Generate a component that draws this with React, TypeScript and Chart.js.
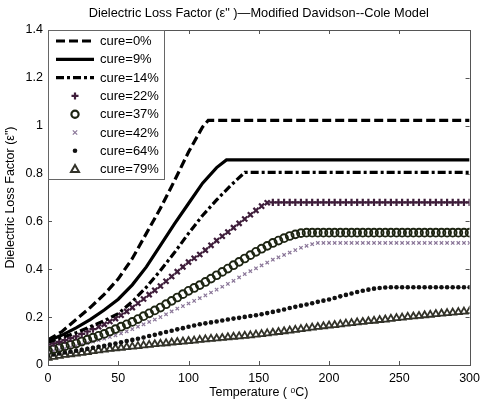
import React, { useEffect, useRef } from "react";
import { Chart, registerables } from "chart.js";

Chart.register(...registerables);

const WIDTH = 486;
const HEIGHT = 401;
const FONT = "'Liberation Sans', Arial, Helvetica, sans-serif";

const chartTitle = 'Dielectric Loss Factor (\u03b5" )\u2014Modified Davidson--Cole Model';
const xTitle = "Temperature ( \u1d52C)";
const yTitle = 'Dielectric Loss Factor (\u03b5")';

const seriesLabels = [
  "cure=0%",
  "cure=9%",
  "cure=14%",
  "cure=22%",
  "cure=37%",
  "cure=42%",
  "cure=64%",
  "cure=79%",
];

// Line-only curves (each with its own temperature samples, ending on the plateau)
const cure0Temps = [0, 10, 20, 30, 40, 50, 60, 70, 80, 90, 100, 110, 114, 300];
const cure0Values = [0.105, 0.14, 0.19, 0.24, 0.295, 0.36, 0.445, 0.55, 0.655, 0.77, 0.89, 0.995, 1.022, 1.022];

const cure9Temps = [0, 10, 20, 30, 40, 50, 60, 70, 80, 90, 100, 110, 120, 127, 300];
const cure9Values = [0.1, 0.125, 0.155, 0.19, 0.23, 0.275, 0.335, 0.41, 0.5, 0.59, 0.675, 0.76, 0.825, 0.857, 0.857];

const cure14Temps = [0, 10, 20, 30, 40, 50, 60, 70, 80, 90, 100, 110, 120, 130, 140, 300];
const cure14Values = [0.095, 0.115, 0.135, 0.16, 0.185, 0.215, 0.265, 0.325, 0.395, 0.47, 0.55, 0.625, 0.69, 0.75, 0.805, 0.805];

// Marker curves share one temperature grid (°C)
const markerTemps = [
  0, 4, 8, 12, 16, 20, 24, 28, 32, 36,
  40, 44, 48, 52, 56, 60, 64, 68, 72, 76,
  80, 84, 88, 92, 96, 100, 104, 108, 112, 116,
  120, 124, 128, 132, 136, 140, 144, 148, 152, 156,
  160, 164, 168, 172, 176, 180, 184, 188, 192, 196,
  200, 204, 208, 212, 216, 220, 224, 228, 232, 236,
  240, 244, 248, 252, 256, 260, 264, 268, 272, 276,
  280, 284, 288, 292, 296, 300,
];

const cure22Values = [
  0.085, 0.091, 0.097, 0.104, 0.112, 0.12, 0.13, 0.14, 0.15, 0.16,
  0.17, 0.182, 0.194, 0.208, 0.224, 0.24, 0.258, 0.276, 0.294, 0.312,
  0.33, 0.35, 0.37, 0.39, 0.41, 0.43, 0.446, 0.462, 0.48, 0.5,
  0.52, 0.538, 0.556, 0.574, 0.592, 0.61, 0.628, 0.646, 0.664, 0.678,
  0.68, 0.68, 0.68, 0.68, 0.68, 0.68, 0.68, 0.68, 0.68, 0.68,
  0.68, 0.68, 0.68, 0.68, 0.68, 0.68, 0.68, 0.68, 0.68, 0.68,
  0.68, 0.68, 0.68, 0.68, 0.68, 0.68, 0.68, 0.68, 0.68, 0.68,
  0.68, 0.68, 0.68, 0.68, 0.68, 0.68,
];

const cure37Values = [
  0.06, 0.066, 0.072, 0.078, 0.084, 0.09, 0.098, 0.106, 0.114, 0.122,
  0.13, 0.14, 0.15, 0.16, 0.17, 0.18, 0.192, 0.204, 0.216, 0.228,
  0.24, 0.254, 0.268, 0.282, 0.296, 0.31, 0.322, 0.334, 0.347, 0.361,
  0.375, 0.389, 0.403, 0.417, 0.431, 0.445, 0.459, 0.473, 0.486, 0.498,
  0.51, 0.52, 0.53, 0.539, 0.546, 0.551, 0.553, 0.553, 0.553, 0.553,
  0.553, 0.553, 0.553, 0.553, 0.553, 0.553, 0.553, 0.553, 0.553, 0.553,
  0.553, 0.553, 0.553, 0.553, 0.553, 0.553, 0.553, 0.553, 0.553, 0.553,
  0.553, 0.553, 0.553, 0.553, 0.553, 0.553,
];

const cure42Values = [
  0.055, 0.059, 0.063, 0.068, 0.074, 0.08, 0.086, 0.092, 0.098, 0.104,
  0.11, 0.117, 0.124, 0.132, 0.141, 0.15, 0.16, 0.17, 0.18, 0.19,
  0.2, 0.212, 0.224, 0.236, 0.246, 0.257, 0.268, 0.279, 0.291, 0.303,
  0.315, 0.327, 0.339, 0.352, 0.366, 0.38, 0.392, 0.404, 0.416, 0.428,
  0.44, 0.45, 0.46, 0.47, 0.48, 0.49, 0.498, 0.505, 0.51, 0.51,
  0.51, 0.51, 0.51, 0.51, 0.51, 0.51, 0.51, 0.51, 0.51, 0.51,
  0.51, 0.51, 0.51, 0.51, 0.51, 0.51, 0.51, 0.51, 0.51, 0.51,
  0.51, 0.51, 0.51, 0.51, 0.51, 0.51,
];

const cure64Values = [
  0.04, 0.044, 0.048, 0.052, 0.056, 0.06, 0.064, 0.068, 0.072, 0.076,
  0.08, 0.085, 0.09, 0.095, 0.1, 0.105, 0.11, 0.115, 0.121, 0.126,
  0.132, 0.138, 0.143, 0.149, 0.154, 0.16, 0.165, 0.17, 0.174, 0.178,
  0.182, 0.186, 0.19, 0.194, 0.197, 0.201, 0.205, 0.208, 0.212, 0.217,
  0.222, 0.227, 0.232, 0.238, 0.243, 0.248, 0.253, 0.258, 0.264, 0.269,
  0.274, 0.28, 0.287, 0.293, 0.299, 0.305, 0.31, 0.315, 0.319, 0.322,
  0.324, 0.325, 0.325, 0.325, 0.325, 0.325, 0.325, 0.325, 0.325, 0.325,
  0.325, 0.325, 0.325, 0.325, 0.325, 0.325,
];

const cure79Values = [
  0.03, 0.034, 0.038, 0.042, 0.045, 0.048, 0.051, 0.054, 0.058, 0.061,
  0.064, 0.067, 0.07, 0.072, 0.075, 0.077, 0.079, 0.082, 0.084, 0.087,
  0.089, 0.091, 0.094, 0.096, 0.098, 0.1, 0.102, 0.105, 0.107, 0.109,
  0.111, 0.113, 0.116, 0.118, 0.12, 0.122, 0.124, 0.127, 0.129, 0.132,
  0.135, 0.138, 0.141, 0.144, 0.147, 0.15, 0.153, 0.156, 0.159, 0.162,
  0.165, 0.167, 0.17, 0.173, 0.175, 0.178, 0.18, 0.183, 0.185, 0.188,
  0.19, 0.193, 0.196, 0.198, 0.201, 0.203, 0.205, 0.208, 0.21, 0.213,
  0.215, 0.217, 0.219, 0.221, 0.223, 0.225,
];

const xTicks = [0, 50, 100, 150, 200, 250, 300];
const yTicks = [0, 0.2, 0.4, 0.6, 0.8, 1, 1.2, 1.4];

const toPoints = (temps: number[], values: number[]) =>
  temps.map((t, i) => ({ x: t, y: values[i] }));

type LegendKind = "line" | "cross" | "circle" | "crossRot" | "dot" | "triangle";

const DASHED = [9, 4];
const DASH_DOT = [8, 3, 3, 3];
const LINE_W = 3.2;

const legendStyles: { kind: LegendKind; color: string; dash?: number[]; width?: number }[] = [
  { kind: "line", color: "#000", dash: DASHED, width: LINE_W },
  { kind: "line", color: "#000", width: LINE_W },
  { kind: "line", color: "#000", dash: DASH_DOT, width: LINE_W },
  { kind: "cross", color: "#3e1d3a" },
  { kind: "circle", color: "#1d2412" },
  { kind: "crossRot", color: "#8a7698" },
  { kind: "dot", color: "#111" },
  { kind: "triangle", color: "#33332a" },
];

function drawMarker(ctx: CanvasRenderingContext2D, kind: LegendKind, x: number, y: number, color: string) {
  ctx.save();
  ctx.strokeStyle = color;
  ctx.fillStyle = color;
  ctx.lineWidth = 2.2;
  ctx.setLineDash([]);
  ctx.beginPath();
  if (kind === "cross") {
    ctx.moveTo(x - 3.5, y);
    ctx.lineTo(x + 3.5, y);
    ctx.moveTo(x, y - 3.5);
    ctx.lineTo(x, y + 3.5);
    ctx.stroke();
  } else if (kind === "crossRot") {
    ctx.lineWidth = 1.2;
    ctx.moveTo(x - 2.2, y - 2.2);
    ctx.lineTo(x + 2.2, y + 2.2);
    ctx.moveTo(x + 2.2, y - 2.2);
    ctx.lineTo(x - 2.2, y + 2.2);
    ctx.stroke();
  } else if (kind === "circle") {
    ctx.arc(x, y, 3.6, 0, Math.PI * 2);
    ctx.stroke();
  } else if (kind === "dot") {
    ctx.arc(x, y, 2.3, 0, Math.PI * 2);
    ctx.fill();
  } else if (kind === "triangle") {
    ctx.lineWidth = 2;
    ctx.moveTo(x, y - 4);
    ctx.lineTo(x + 4, y + 3);
    ctx.lineTo(x - 4, y + 3);
    ctx.closePath();
    ctx.stroke();
  }
  ctx.restore();
}

// Frame with inward ticks, boxed legend in the upper-left corner and the title
const decorPlugin = {
  id: "decor",
  afterDraw(chart: any) {
    const { ctx, chartArea: a, scales } = chart;
    ctx.save();

    // plot frame
    ctx.strokeStyle = "#555";
    ctx.lineWidth = 1;
    ctx.setLineDash([]);
    ctx.strokeRect(Math.round(a.left) + 0.5, Math.round(a.top) + 0.5, Math.round(a.right - a.left), Math.round(a.bottom - a.top));

    // inward tick marks on all four sides
    ctx.beginPath();
    xTicks.forEach((v) => {
      const px = Math.round(scales.x.getPixelForValue(v)) + 0.5;
      ctx.moveTo(px, a.bottom);
      ctx.lineTo(px, a.bottom - 4);
      ctx.moveTo(px, a.top);
      ctx.lineTo(px, a.top + 4);
    });
    yTicks.forEach((v) => {
      const py = Math.round(scales.y.getPixelForValue(v)) + 0.5;
      ctx.moveTo(a.left, py);
      ctx.lineTo(a.left + 4, py);
      ctx.moveTo(a.right, py);
      ctx.lineTo(a.right - 4, py);
    });
    ctx.stroke();

    // legend
    const boxL = Math.round(a.left) + 0.5;
    const boxT = Math.round(a.top) + 0.5;
    const boxW = 116;
    const boxH = 149;
    ctx.fillStyle = "#fff";
    ctx.fillRect(boxL, boxT, boxW, boxH);
    ctx.strokeStyle = "#666";
    ctx.strokeRect(boxL, boxT, boxW, boxH);
    const rowTop = a.top + 11;
    const rowStep = 18.3;
    ctx.font = `13px ${FONT}`;
    ctx.textBaseline = "middle";
    ctx.textAlign = "left";
    seriesLabels.forEach((label, i) => {
      const y = rowTop + i * rowStep;
      const st = legendStyles[i];
      const x0 = a.left + 8;
      const x1 = a.left + 46;
      if (st.kind === "line") {
        ctx.save();
        ctx.strokeStyle = st.color;
        ctx.lineWidth = st.width || 2.5;
        ctx.setLineDash(st.dash || []);
        ctx.beginPath();
        ctx.moveTo(x0, y);
        ctx.lineTo(x1, y);
        ctx.stroke();
        ctx.restore();
      } else {
        drawMarker(ctx, st.kind, (x0 + x1) / 2, y, st.color);
      }
      ctx.fillStyle = "#000";
      ctx.fillText(label, a.left + 52, y + 0.5);
    });

    // title
    ctx.font = `12.8px ${FONT}`;
    ctx.textAlign = "center";
    ctx.textBaseline = "middle";
    ctx.fillStyle = "#000";
    ctx.fillText(chartTitle, (a.left + a.right) / 2, 13.5);

    ctx.restore();
  },
};

export default function App() {
  const canvasRef = useRef<HTMLCanvasElement | null>(null);

  useEffect(() => {
    const canvas = canvasRef.current;
    if (!canvas) return;

    const plusPlateau = Math.max(...cure22Values);

    const chart = new Chart(canvas, {
      type: "line",
      data: {
        datasets: [
          {
            label: seriesLabels[0],
            data: toPoints(cure0Temps, cure0Values),
            borderColor: "#000",
            borderWidth: LINE_W,
            borderDash: DASHED,
            pointRadius: 0,
            fill: false,
          },
          {
            label: seriesLabels[1],
            data: toPoints(cure9Temps, cure9Values),
            borderColor: "#000",
            borderWidth: LINE_W,
            pointRadius: 0,
            fill: false,
          },
          {
            label: seriesLabels[2],
            data: toPoints(cure14Temps, cure14Values),
            borderColor: "#000",
            borderWidth: LINE_W,
            borderDash: DASH_DOT,
            pointRadius: 0,
            fill: false,
          },
          {
            label: seriesLabels[3],
            data: toPoints(markerTemps, cure22Values),
            showLine: false,
            pointStyle: (c: any) =>
              c.raw && c.raw.x >= 36 && c.raw.y < plusPlateau ? "crossRot" : "cross",
            pointRadius: 3.6,
            pointBorderWidth: 2.2,
            pointBorderColor: "#3e1d3a",
            pointBackgroundColor: "#3e1d3a",
          },
          {
            label: seriesLabels[4],
            data: toPoints(markerTemps, cure37Values),
            showLine: false,
            pointStyle: "circle",
            pointRadius: 3.9,
            pointBorderWidth: 1.9,
            pointBorderColor: "#1d2412",
            pointBackgroundColor: "rgba(255,255,255,0)",
          },
          {
            label: seriesLabels[5],
            data: toPoints(markerTemps, cure42Values),
            showLine: false,
            pointStyle: "crossRot",
            pointRadius: 2.4,
            pointBorderWidth: 1.2,
            pointBorderColor: "#8a7698",
            pointBackgroundColor: "#8a7698",
          },
          {
            label: seriesLabels[6],
            data: toPoints(markerTemps, cure64Values),
            showLine: false,
            pointStyle: "circle",
            pointRadius: 2.3,
            pointBorderWidth: 0,
            pointBorderColor: "#111",
            pointBackgroundColor: "#111",
          },
          {
            label: seriesLabels[7],
            data: toPoints(markerTemps, cure79Values),
            showLine: false,
            pointStyle: "triangle",
            pointRadius: 4,
            pointBorderWidth: 1.8,
            pointBorderColor: "#33332a",
            pointBackgroundColor: "rgba(255,255,255,0)",
          },
        ],
      },
      options: {
        animation: false,
        responsive: false,
        maintainAspectRatio: false,
        events: [],
        layout: { padding: { top: 30, right: 13, left: 0, bottom: 0 } },
        plugins: {
          legend: { display: false },
          title: { display: false },
          tooltip: { enabled: false },
        },
        elements: { line: { tension: 0 } },
        scales: {
          x: {
            type: "linear",
            min: 0,
            max: 300,
            afterBuildTicks: (s: any) => {
              s.ticks = xTicks.map((v) => ({ value: v }));
            },
            ticks: {
              color: "#000",
              font: { family: FONT, size: 12.5 },
              maxRotation: 0,
              padding: 6,
              callback: (v: any) => String(v),
            },
            grid: { display: false, drawTicks: false },
            border: { display: false },
            title: {
              display: true,
              text: xTitle,
              color: "#000",
              font: { family: FONT, size: 12.5 },
              padding: { top: 0, bottom: 1 },
            },
            afterFit: (s: any) => {
              s.height = 36;
            },
          },
          y: {
            type: "linear",
            min: 0,
            max: 1.4,
            afterBuildTicks: (s: any) => {
              s.ticks = yTicks.map((v) => ({ value: v }));
            },
            ticks: {
              color: "#000",
              font: { family: FONT, size: 12.5 },
              padding: 5,
              callback: (v: any) => String(Number(Number(v).toFixed(1))),
            },
            grid: { display: false, drawTicks: false },
            border: { display: false },
            title: {
              display: true,
              text: yTitle,
              color: "#000",
              font: { family: FONT, size: 12.5 },
              padding: { top: 3, bottom: 0 },
            },
            afterFit: (s: any) => {
              s.width = 48;
            },
          },
        },
      },
      plugins: [decorPlugin],
    });

    return () => chart.destroy();
  }, []);

  return (
    <div
      style={{
        position: "absolute",
        left: 0,
        top: 0,
        width: WIDTH,
        height: HEIGHT,
        background: "#fff",
      }}
    >
      <canvas ref={canvasRef} width={WIDTH} height={HEIGHT} style={{ width: WIDTH, height: HEIGHT, display: "block" }} />
    </div>
  );
}
